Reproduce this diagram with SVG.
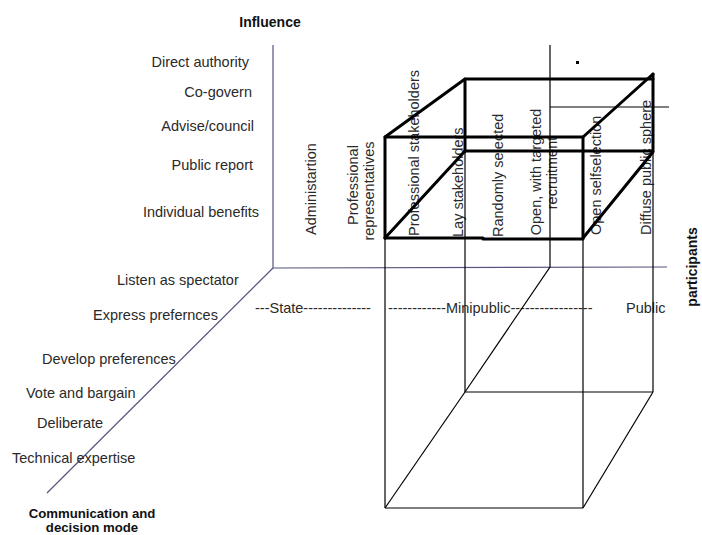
<svg xmlns="http://www.w3.org/2000/svg" width="702" height="535" viewBox="0 0 702 535">
<style>
text{font-family:"Liberation Sans",Arial,sans-serif;font-size:14.5px;fill:#2a2a2a}
.b{font-weight:bold;font-size:14px;fill:#111}
.axis{stroke:#55557f;stroke-width:1.2;fill:none}
.thin{stroke:#000;stroke-width:1.2;fill:none}
.thick{stroke:#000;stroke-width:3;fill:none;stroke-linecap:round;stroke-linejoin:round}
</style>
<rect width="702" height="535" fill="#fff"/>
<g id="axes">
<polyline class="axis" points="273,45 273,268 667,267"/>
<line class="axis" x1="273" y1="268" x2="47" y2="493"/>
</g>
<g id="axis-labels">
<text id="influence" class="b" x="270" y="27" text-anchor="middle">Influence</text>
<text id="participants" class="b" transform="translate(697,267) rotate(-90)" text-anchor="middle">participants</text>
<text class="b" x="92" y="518" text-anchor="middle" style="font-size:13.2px">Communication and</text>
<text class="b" x="92" y="532" text-anchor="middle" style="font-size:13.2px">decision mode</text>
</g>
<g id="influence-levels" text-anchor="end">
<text x="249" y="67">Direct authority</text>
<text x="252" y="97">Co-govern</text>
<text x="254" y="131">Advise/council</text>
<text x="253" y="170">Public report</text>
<text x="259" y="217">Individual benefits</text>
</g>
<g id="modes">
<text x="117" y="285">Listen as spectator</text>
<text x="93" y="320">Express prefernces</text>
<text x="42" y="364">Develop preferences</text>
<text x="26" y="398">Vote and bargain</text>
<text x="37" y="428">Deliberate</text>
<text x="12" y="463">Technical expertise</text>
</g>
<g id="participant-types">
<text transform="translate(316,235) rotate(-90)">Administartion</text>
<text transform="translate(358,185) rotate(-90)" text-anchor="middle">Professional</text>
<text transform="translate(374,191) rotate(-90)" text-anchor="middle">representatives</text>
<text transform="translate(419,236) rotate(-90)">Professional stakeholders</text>
<text transform="translate(463,237) rotate(-90)">Lay stakeholders</text>
<text transform="translate(503,237) rotate(-90)">Randomly selected</text>
<text transform="translate(541,172) rotate(-90)" text-anchor="middle">Open, with targeted</text>
<text transform="translate(557,173) rotate(-90)" text-anchor="middle">recruitment</text>
<text transform="translate(601,235) rotate(-90)">Open selfselection</text>
<text transform="translate(651,235) rotate(-90)">Diffuse public sphere</text>
</g>
<g id="sectors">
<text x="255" y="313">---State--------------</text>
<text x="388" y="313">------------Minipublic-----------------</text>
<text x="626" y="313">Public</text>
</g>
<g id="connectors">
<g id="thin-lines" class="thin">
<polyline points="550,45 550,267 465,392"/>
<line x1="550" y1="107" x2="669" y2="107"/>
<line x1="385" y1="238" x2="385" y2="508"/>
<line x1="583" y1="238" x2="583" y2="508"/>
<line x1="465" y1="151" x2="465" y2="392"/>
<line x1="653" y1="152" x2="653" y2="392"/>
<line x1="385" y1="508" x2="583" y2="508"/>
<line x1="465" y1="392" x2="653" y2="392"/>
<line x1="385" y1="508" x2="465" y2="392"/>
<line x1="583" y1="508" x2="653" y2="392"/>
</g>
<g id="thick-box" class="thick">
<polyline points="385,238 385,137 583,137 583,238"/>
<line x1="385" y1="238" x2="483" y2="238"/>
<line x1="483" y1="239" x2="583" y2="239"/>
<polyline points="465,151 465,79 653,79"/>
<polyline points="465,151 653,151 653,74"/>
<line x1="385" y1="137" x2="465" y2="79"/>
<line x1="385" y1="238" x2="465" y2="151"/>
<line x1="583" y1="137" x2="653" y2="74"/>
<line x1="583" y1="238" x2="653" y2="152"/>
</g>
</g>
<rect id="dot" x="576" y="61" width="3" height="3" fill="#000"/>
</svg>
